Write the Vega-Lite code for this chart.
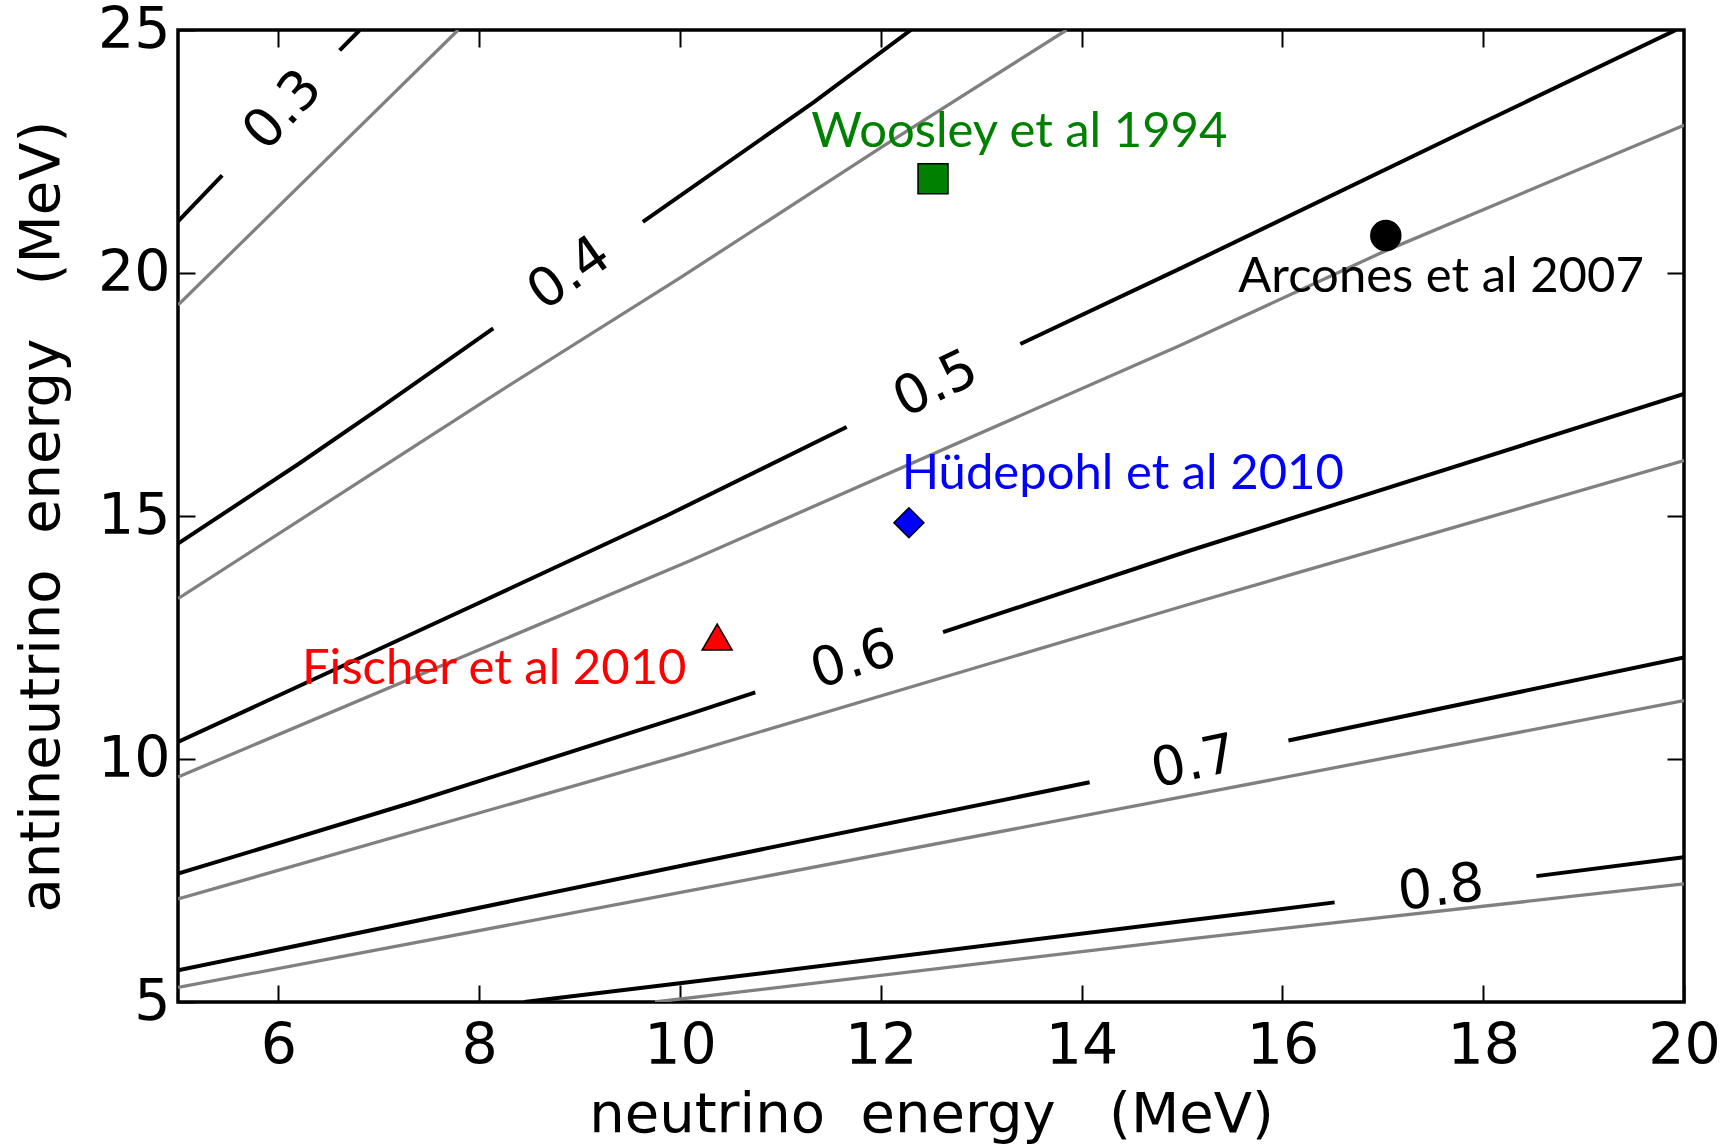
{
  "$schema": "https://vega.github.io/schema/vega-lite/v6.json",
  "width": 1506,
  "height": 972,
  "autosize": {"type": "none"},
  "padding": {"left": 178, "top": 30, "right": 46, "bottom": 143},
  "background": "white",
  "config": {
    "view": {"stroke": "black", "strokeWidth": 3.5},
    "axis": {
      "domain": false,
      "grid": false,
      "tickColor": "black",
      "tickWidth": 2,
      "tickSize": -17,
      "labelFont": "DejaVu Sans",
      "labelFontSize": 57,
      "labelColor": "black",
      "labelFlush": false,
      "labelOverlap": false,
      "titleFont": "DejaVu Sans",
      "titleFontSize": 56,
      "titleFontWeight": "normal",
      "titleColor": "black"
    }
  },
  "datasets": {
    "contours": [
      {"seg": "a3a", "set": "A", "x": 5, "y": 21.06},
      {"seg": "a3a", "set": "A", "x": 5.44, "y": 22.01},
      {"seg": "a3b", "set": "A", "x": 6.61, "y": 24.58},
      {"seg": "a3b", "set": "A", "x": 6.81, "y": 25.0},
      {"seg": "a4a", "set": "A", "x": 5, "y": 14.43},
      {"seg": "a4a", "set": "A", "x": 6.2, "y": 16.07},
      {"seg": "a4a", "set": "A", "x": 7.01, "y": 17.22},
      {"seg": "a4a", "set": "A", "x": 8.14, "y": 18.86},
      {"seg": "a4b", "set": "A", "x": 9.63, "y": 21.05},
      {"seg": "a4b", "set": "A", "x": 11.33, "y": 23.51},
      {"seg": "a4b", "set": "A", "x": 12.3, "y": 25.0},
      {"seg": "a5a", "set": "A", "x": 5, "y": 10.35},
      {"seg": "a5a", "set": "A", "x": 7.975, "y": 13.19},
      {"seg": "a5a", "set": "A", "x": 9.87, "y": 15.01},
      {"seg": "a5a", "set": "A", "x": 11.66, "y": 16.83},
      {"seg": "a5b", "set": "A", "x": 13.39, "y": 18.54},
      {"seg": "a5b", "set": "A", "x": 14.98, "y": 20.09},
      {"seg": "a5b", "set": "A", "x": 17.97, "y": 23.07},
      {"seg": "a5b", "set": "A", "x": 19.92, "y": 25.0},
      {"seg": "a6a", "set": "A", "x": 5, "y": 7.64},
      {"seg": "a6a", "set": "A", "x": 7.34, "y": 9.11},
      {"seg": "a6a", "set": "A", "x": 10.1, "y": 10.93},
      {"seg": "a6a", "set": "A", "x": 10.75, "y": 11.37},
      {"seg": "a6b", "set": "A", "x": 12.62, "y": 12.61},
      {"seg": "a6b", "set": "A", "x": 15.08, "y": 14.29},
      {"seg": "a6b", "set": "A", "x": 20, "y": 17.51},
      {"seg": "a7a", "set": "A", "x": 5, "y": 5.65},
      {"seg": "a7a", "set": "A", "x": 10.1, "y": 7.84},
      {"seg": "a7a", "set": "A", "x": 14.08, "y": 9.52},
      {"seg": "a7b", "set": "A", "x": 16.06, "y": 10.38},
      {"seg": "a7b", "set": "A", "x": 20, "y": 12.09},
      {"seg": "a8a", "set": "A", "x": 8.45, "y": 5.0},
      {"seg": "a8a", "set": "A", "x": 10.1, "y": 5.41},
      {"seg": "a8a", "set": "A", "x": 15.08, "y": 6.68},
      {"seg": "a8a", "set": "A", "x": 16.52, "y": 7.05},
      {"seg": "a8b", "set": "A", "x": 18.53, "y": 7.59},
      {"seg": "a8b", "set": "A", "x": 20, "y": 7.98},
      {"seg": "g1", "set": "B", "x": 5, "y": 19.34},
      {"seg": "g1", "set": "B", "x": 7.79, "y": 25.0},
      {"seg": "g2", "set": "B", "x": 5, "y": 13.3},
      {"seg": "g2", "set": "B", "x": 8.17, "y": 17.52},
      {"seg": "g2", "set": "B", "x": 10.0, "y": 19.9},
      {"seg": "g2", "set": "B", "x": 12.0, "y": 22.58},
      {"seg": "g2", "set": "B", "x": 13.85, "y": 25.0},
      {"seg": "g3", "set": "B", "x": 5, "y": 9.63},
      {"seg": "g3", "set": "B", "x": 10.1, "y": 14.08},
      {"seg": "g3", "set": "B", "x": 14.98, "y": 18.51},
      {"seg": "g3", "set": "B", "x": 17.02, "y": 20.45},
      {"seg": "g3", "set": "B", "x": 20, "y": 23.04},
      {"seg": "g4", "set": "B", "x": 5, "y": 7.12},
      {"seg": "g4", "set": "B", "x": 10.0, "y": 10.07},
      {"seg": "g4", "set": "B", "x": 15.08, "y": 13.19},
      {"seg": "g4", "set": "B", "x": 20, "y": 16.14},
      {"seg": "g5", "set": "B", "x": 5, "y": 5.3},
      {"seg": "g5", "set": "B", "x": 10.1, "y": 7.29},
      {"seg": "g5", "set": "B", "x": 15.08, "y": 9.25},
      {"seg": "g5", "set": "B", "x": 20, "y": 11.2},
      {"seg": "g6", "set": "B", "x": 9.75, "y": 5.0},
      {"seg": "g6", "set": "B", "x": 15.08, "y": 6.3},
      {"seg": "g6", "set": "B", "x": 20, "y": 7.43}
    ],
    "labels": [
      {"v": 0.3, "lab": "0.3", "x": 6.05, "y": 23.34},
      {"v": 0.4, "lab": "0.4", "x": 8.9, "y": 19.98},
      {"v": 0.5, "lab": "0.5", "x": 12.55, "y": 17.7},
      {"v": 0.6, "lab": "0.6", "x": 11.73, "y": 12.03},
      {"v": 0.7, "lab": "0.7", "x": 15.12, "y": 9.92},
      {"v": 0.8, "lab": "0.8", "x": 17.58, "y": 7.33}
    ],
    "models": [
      {"src": "Woosley et al 1994", "x": 12.52, "y": 21.94, "tx": 13.38, "ty": 22.59},
      {"src": "Arcones et al 2007", "x": 17.03, "y": 20.77, "tx": 17.58, "ty": 19.61},
      {"src": "Hüdepohl et al 2010", "x": 12.28, "y": 14.86, "tx": 14.41, "ty": 15.56},
      {"src": "Fischer et al 2010", "x": 10.37, "y": 12.51, "tx": 8.15, "ty": 11.55}
    ]
  },
  "resolve": {"axis": {"x": "independent", "y": "independent"}},
  "layer": [
    {
      "data": {"name": "contours"},
      "transform": [{"filter": "datum.set === 'B'"}],
      "mark": {"type": "line", "color": "#808080", "strokeWidth": 3.3, "clip": true},
      "encoding": {
        "x": {"field": "x", "type": "quantitative", "scale": {"domain": [5, 20], "nice": false, "zero": false},
          "axis": {"orient": "bottom", "values": [6, 8, 10, 12, 14, 16, 18, 20], "labelPadding": 33, "title": "neutrino\u00a0\u00a0energy\u00a0\u00a0\u00a0(MeV)", "titleBaseline": "alphabetic", "titleY": 129}},
        "y": {"field": "y", "type": "quantitative", "scale": {"domain": [5, 25], "nice": false, "zero": false},
          "axis": {"orient": "left", "values": [5, 10, 15, 20, 25], "labelPadding": 25, "title": "antineutrino\u00a0\u00a0energy\u00a0\u00a0\u00a0(MeV)", "titleBaseline": "alphabetic", "titleX": -120}},
        "detail": {"field": "seg"}
      }
    },
    {
      "data": {"name": "contours"},
      "transform": [{"filter": "datum.set === 'A'"}],
      "mark": {"type": "line", "color": "black", "strokeWidth": 4, "clip": true},
      "encoding": {
        "x": {"field": "x", "type": "quantitative",
          "axis": {"orient": "top", "values": [6, 8, 10, 12, 14, 16, 18], "labels": false, "title": null}},
        "y": {"field": "y", "type": "quantitative",
          "axis": {"orient": "right", "values": [10, 15, 20], "labels": false, "title": null}},
        "detail": {"field": "seg"}
      }
    },
    {
      "data": {"name": "labels"},
      "mark": {"type": "text", "font": "DejaVu Sans", "fontSize": 54, "color": "black", "align": "center", "baseline": "middle"},
      "encoding": {
        "x": {"field": "x", "type": "quantitative", "axis": null},
        "y": {"field": "y", "type": "quantitative", "axis": null},
        "text": {"field": "lab"},
        "angle": {"field": "v", "type": "quantitative", "legend": null,
          "scale": {"domain": [0.3, 0.4, 0.5, 0.6, 0.7, 0.8], "range": [313, 325, 334, 342, 348, 353]}}
      }
    },
    {
      "data": {"name": "models"},
      "mark": {"type": "point", "filled": true, "stroke": "black", "strokeWidth": 1.5, "opacity": 1},
      "encoding": {
        "x": {"field": "x", "type": "quantitative", "axis": null},
        "y": {"field": "y", "type": "quantitative", "axis": null},
        "shape": {"field": "src", "type": "nominal", "legend": null,
          "scale": {"domain": ["Woosley et al 1994", "Arcones et al 2007", "Hüdepohl et al 2010", "Fischer et al 2010"], "range": ["square", "circle", "diamond", "triangle-up"]}},
        "color": {"field": "src", "type": "nominal", "legend": null,
          "scale": {"domain": ["Woosley et al 1994", "Arcones et al 2007", "Hüdepohl et al 2010", "Fischer et al 2010"], "range": ["#008000", "#000000", "#0000ff", "#ff0000"]}},
        "size": {"field": "src", "type": "nominal", "legend": null,
          "scale": {"domain": ["Woosley et al 1994", "Arcones et al 2007", "Hüdepohl et al 2010", "Fischer et al 2010"], "range": [900, 900, 1300, 1000]}}
      }
    },
    {
      "data": {"name": "models"},
      "mark": {"type": "text", "font": "Lato", "fontSize": 49, "align": "center", "baseline": "alphabetic"},
      "encoding": {
        "x": {"field": "tx", "type": "quantitative", "axis": null},
        "y": {"field": "ty", "type": "quantitative", "axis": null},
        "text": {"field": "src"},
        "color": {"field": "src", "type": "nominal", "legend": null}
      }
    }
  ]
}
